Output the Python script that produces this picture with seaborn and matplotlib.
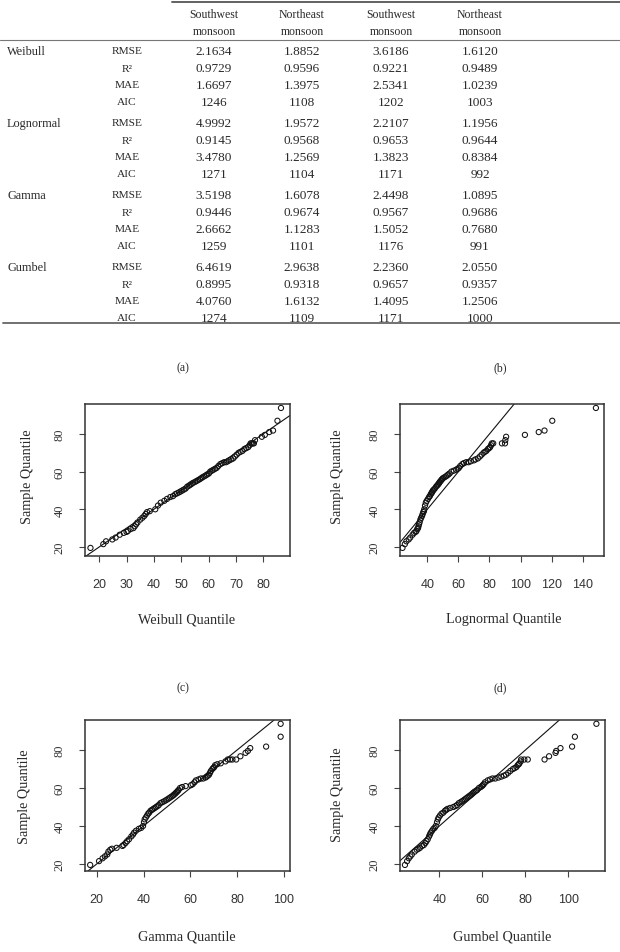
import matplotlib
matplotlib.use("Agg")
import matplotlib.pyplot as plt
from matplotlib.lines import Line2D
import seaborn as sns
import pandas as pd

# ---------------- table data ----------------
col_headers = ["Southwest\nmonsoon", "Northeast\nmonsoon", "Southwest\nmonsoon", "Northeast\nmonsoon"]
distributions = ["Weibull", "Lognormal", "Gamma", "Gumbel"]
metrics = ["RMSE", "R²", "MAE", "AIC"]
weibull_vals = [["2.1634", "1.8852", "3.6186", "1.6120"],
                ["0.9729", "0.9596", "0.9221", "0.9489"],
                ["1.6697", "1.3975", "2.5341", "1.0239"],
                ["1246", "1108", "1202", "1003"]]
lognormal_vals = [["4.9992", "1.9572", "2.2107", "1.1956"],
                  ["0.9145", "0.9568", "0.9653", "0.9644"],
                  ["3.4780", "1.2569", "1.3823", "0.8384"],
                  ["1271", "1104", "1171", "992"]]
gamma_vals = [["3.5198", "1.6078", "2.4498", "1.0895"],
              ["0.9446", "0.9674", "0.9567", "0.9686"],
              ["2.6662", "1.1283", "1.5052", "0.7680"],
              ["1259", "1101", "1176", "991"]]
gumbel_vals = [["6.4619", "2.9638", "2.2360", "2.0550"],
               ["0.8995", "0.9318", "0.9657", "0.9357"],
               ["4.0760", "1.6132", "1.4095", "1.2506"],
               ["1274", "1109", "1171", "1000"]]
table_vals = [weibull_vals, lognormal_vals, gamma_vals, gumbel_vals]

# ---------------- Q-Q data ----------------
sample_q = [19.5, 21.5, 23.0, 24.0, 25.0, 26.5, 27.5, 28.0, 28.5, 29.5,
            30.0, 31.0, 32.0, 33.0, 34.5, 35.5, 36.5, 37.5, 38.5, 39.0,
            40.0, 42.0, 43.5, 44.5, 45.5, 46.5, 47.0, 48.0, 48.5, 49.0,
            49.5, 50.0, 50.5, 51.0, 52.0, 52.5, 53.0, 53.5, 54.0, 54.5,
            55.0, 55.5, 56.0, 56.5, 57.0, 57.5, 58.0, 58.5, 59.0, 60.0,
            60.5, 61.0, 61.5, 62.0, 63.0, 64.0, 64.5, 65.0, 65.0, 65.5,
            66.0, 66.5, 67.0, 68.0, 69.0, 70.0, 70.5, 71.0, 72.0, 72.5,
            73.0, 74.0, 75.0, 75.0, 75.0, 75.0,
            76.7, 78.5, 79.5, 81.0, 81.8, 87.0, 93.8]

weibull_q = [16.8, 21.5, 22.5, 24.8, 26.0, 27.5, 29.0, 30.0, 30.5, 31.5,
             32.5, 33.0, 33.5, 34.0, 35.0, 35.8, 36.5, 37.0, 37.5, 38.5,
             40.5, 41.5, 42.5, 43.8, 44.8, 46.0, 47.0, 47.8, 48.5, 49.2,
             49.8, 50.4, 51.0, 51.6, 52.2, 52.8, 53.3, 53.8, 54.3, 55.0,
             55.6, 56.2, 56.8, 57.3, 57.8, 58.4, 59.0, 59.5, 60.1, 60.6,
             61.2, 61.8, 62.4, 63.0, 63.6, 64.3, 65.0, 65.7, 66.4, 67.0,
             67.6, 68.3, 69.0, 69.6, 70.3, 71.0, 71.7, 72.4, 73.1, 73.8,
             74.5, 75.0, 75.4, 75.8, 76.2, 76.6,
             77.0, 79.5, 80.6, 82.2, 83.6, 85.2, 86.5]

lognormal_q = [24.0, 25.5, 26.5, 28.0, 29.0, 30.5, 31.5, 32.5, 33.0, 33.5,
               34.0, 34.3, 34.6, 35.0, 35.5, 36.0, 36.6, 37.0, 37.4, 37.8,
               38.0, 38.5, 39.0, 39.6, 40.4, 41.1, 41.6, 42.2, 42.6, 43.0,
               43.3, 43.6, 44.2, 44.8, 45.6, 46.2, 46.7, 47.2, 47.6, 48.0,
               48.5, 49.0, 49.5, 50.0, 51.0, 52.0, 52.8, 53.5, 54.3, 55.5,
               57.0, 58.5, 59.5, 60.3, 61.2, 62.5, 63.5, 65.0, 66.5, 68.0,
               70.0, 71.0, 72.5, 73.8, 75.0, 76.2, 77.0, 78.0, 79.0, 79.8,
               80.4, 81.0, 81.5, 82.4, 88.0, 90.0,
               90.2, 90.7, 102.8, 111.7, 115.4, 120.4, 148.5]

gamma_q = [17.2, 21.0, 22.5, 23.5, 24.5, 25.0, 25.8, 26.5, 28.5, 31.0,
           31.5, 32.3, 33.0, 33.8, 34.8, 35.5, 36.0, 36.8, 38.0, 39.0,
           39.8, 40.2, 40.5, 41.0, 41.5, 42.0, 42.4, 43.0, 43.6, 44.2,
           44.8, 45.4, 46.0, 46.5, 47.2, 48.0, 48.8, 49.5, 50.2, 50.8,
           51.4, 52.0, 52.6, 53.0, 53.5, 53.9, 54.3, 54.7, 55.0, 55.6,
           56.5, 58.0, 60.3, 61.0, 61.8, 62.4, 63.5, 64.5, 65.5, 66.5,
           67.0, 67.5, 68.0, 68.4, 68.8, 69.4, 69.8, 70.2, 70.6, 71.5,
           73.0, 75.0, 76.0, 77.0, 78.0, 79.6,
           81.4, 83.6, 84.6, 85.6, 92.4, 98.6, 98.6]

gumbel_q = [24.0, 25.0, 25.8, 26.5, 27.2, 28.5, 29.5, 30.3, 31.0, 32.0,
            32.8, 33.5, 34.0, 34.6, 35.2, 35.6, 36.0, 36.6, 37.2, 37.8,
            38.3, 38.9, 39.3, 39.7, 40.3, 41.0, 41.8, 42.6, 43.2, 43.8,
            45.0, 46.5, 47.5, 48.2, 49.0, 49.8, 50.5, 51.2, 51.8, 52.4,
            53.0, 53.6, 54.2, 54.8, 55.3, 55.8, 56.3, 57.0, 57.6, 58.4,
            59.2, 59.8, 60.2, 60.6, 61.2, 62.5, 63.6, 64.7, 66.0, 67.5,
            68.8, 70.0, 71.0, 72.0, 73.0, 74.2, 75.0, 75.8, 76.4, 76.9,
            77.2, 77.8, 78.0, 79.5, 81.1, 88.9,
            91.0, 94.0, 94.3, 96.3, 101.7, 103.0, 113.0]

panel_letters = ["(a)", "(b)", "(c)", "(d)"]
x_titles = ["Weibull Quantile", "Lognormal Quantile", "Gamma Quantile", "Gumbel Quantile"]
theoretical = [weibull_q, lognormal_q, gamma_q, gumbel_q]
x_ticks = [[20, 30, 40, 50, 60, 70, 80],
           [40, 60, 80, 100, 120, 140],
           [20, 40, 60, 80, 100],
           [40, 60, 80, 100]]
y_ticks = [20, 40, 60, 80]

# ---------------- figure ----------------
sns.set_theme(style="white")
plt.rcParams["font.family"] = ["Liberation Serif", "DejaVu Serif"]

W, H = 620, 953
fig = plt.figure(figsize=(W / 100, H / 100), dpi=100)
fig.patch.set_facecolor("white")
TXT = "#2a2a2a"


def fx(px):
    return px / W


def fy(py):
    return 1 - py / H


def hline(x0, x1, y, lw, color):
    fig.add_artist(Line2D([fx(x0), fx(x1)], [fy(y), fy(y)], lw=lw, color=color,
                          transform=fig.transFigure))


# table
col_x = [214, 302, 391, 480]
hline(172, 620, 3, 1.3, "#555555")
hline(0, 620, 41, 0.8, "#777777")
hline(3, 620, 324, 1.3, "#666666")
for cx, h in zip(col_x, col_headers):
    l1, l2 = h.split("\n")
    fig.text(fx(cx), fy(15), l1, ha="center", va="center", fontsize=8.5, color=TXT)
    fig.text(fx(cx), fy(32), l2, ha="center", va="center", fontsize=8.5, color=TXT)

group_top = [52, 124, 196, 268]
row_step = [0, 17.5, 34, 50.5]
for gi, (dname, vals) in enumerate(zip(distributions, table_vals)):
    fig.text(fx(7), fy(group_top[gi]), dname, ha="left", va="center", fontsize=8.8, color=TXT)
    for ri, (m, row) in enumerate(zip(metrics, vals)):
        yy = group_top[gi] + row_step[ri]
        fig.text(fx(127), fy(yy), m, ha="center", va="center", fontsize=8.2, color=TXT)
        for cx, v in zip(col_x, row):
            fig.text(fx(cx), fy(yy), v, ha="center", va="center", fontsize=9.5, color=TXT)

# panel letters
for (px, py), lab in zip([(183, 368), (500, 368), (183, 688), (500, 688)], panel_letters):
    fig.text(fx(px), fy(py), lab, ha="center", va="center", fontsize=8.5, color=TXT)

# axes boxes [left, right, top, bottom] in px
boxes = [(85, 290, 405, 557), (400, 604, 405, 557), (85, 290, 721, 872), (400, 605, 721, 872)]
xlims = [(14.8, 89.8), (22.4, 153.7), (15.0, 102.6), (21.7, 117.0)]
ylims = [(15.2, 95.9), (15.2, 95.9), (16.3, 95.8), (16.3, 95.8)]
xlab_pos = [(187, 620), (504, 620), (187, 937), (502, 937)]
ylab_pos = [(27, 477), (338, 477), (25, 797), (338, 795)]

for i in range(4):
    l, r, t, b = boxes[i]
    ax = fig.add_axes([fx(l), fy(b), (r - l) / W, (b - t) / H])
    df = pd.DataFrame({"theoretical": theoretical[i], "sample": sample_q})
    sns.scatterplot(data=df, x="theoretical", y="sample", ax=ax, marker="o",
                    s=14, facecolor="none", edgecolor="#111111", linewidth=0.75,
                    zorder=3)
    ax.axline((0, 0), slope=1, color="#111111", lw=0.8, zorder=2)
    ax.set_xlim(*xlims[i])
    ax.set_ylim(*ylims[i])
    ax.set_xlabel("")
    ax.set_ylabel("")
    ax.set_xticks(x_ticks[i])
    ax.set_yticks(y_ticks)
    ax.set_xticklabels([str(v) for v in x_ticks[i]], family=["Liberation Sans", "DejaVu Sans"],
                       fontsize=9, color="#333333")
    ax.set_yticklabels([str(v) for v in y_ticks], rotation=90, va="center",
                       fontsize=9, color="#333333")
    ax.tick_params(axis="both", direction="out", length=4, width=0.8, color="#444444",
                   bottom=True, left=True)
    ax.tick_params(axis="x", pad=12)
    ax.tick_params(axis="y", pad=10)
    for sp in ax.spines.values():
        sp.set_color("#333333")
        sp.set_linewidth(1.1)
    ax.set_facecolor("white")
    fig.text(fx(xlab_pos[i][0]), fy(xlab_pos[i][1]), x_titles[i], ha="center", va="center",
             fontsize=10.3, color=TXT)
    fig.text(fx(ylab_pos[i][0]), fy(ylab_pos[i][1]), "Sample Quantile", ha="center", va="center",
             rotation=90, fontsize=10.2, color=TXT)

fig.savefig("out.png", dpi=100, facecolor="white")
